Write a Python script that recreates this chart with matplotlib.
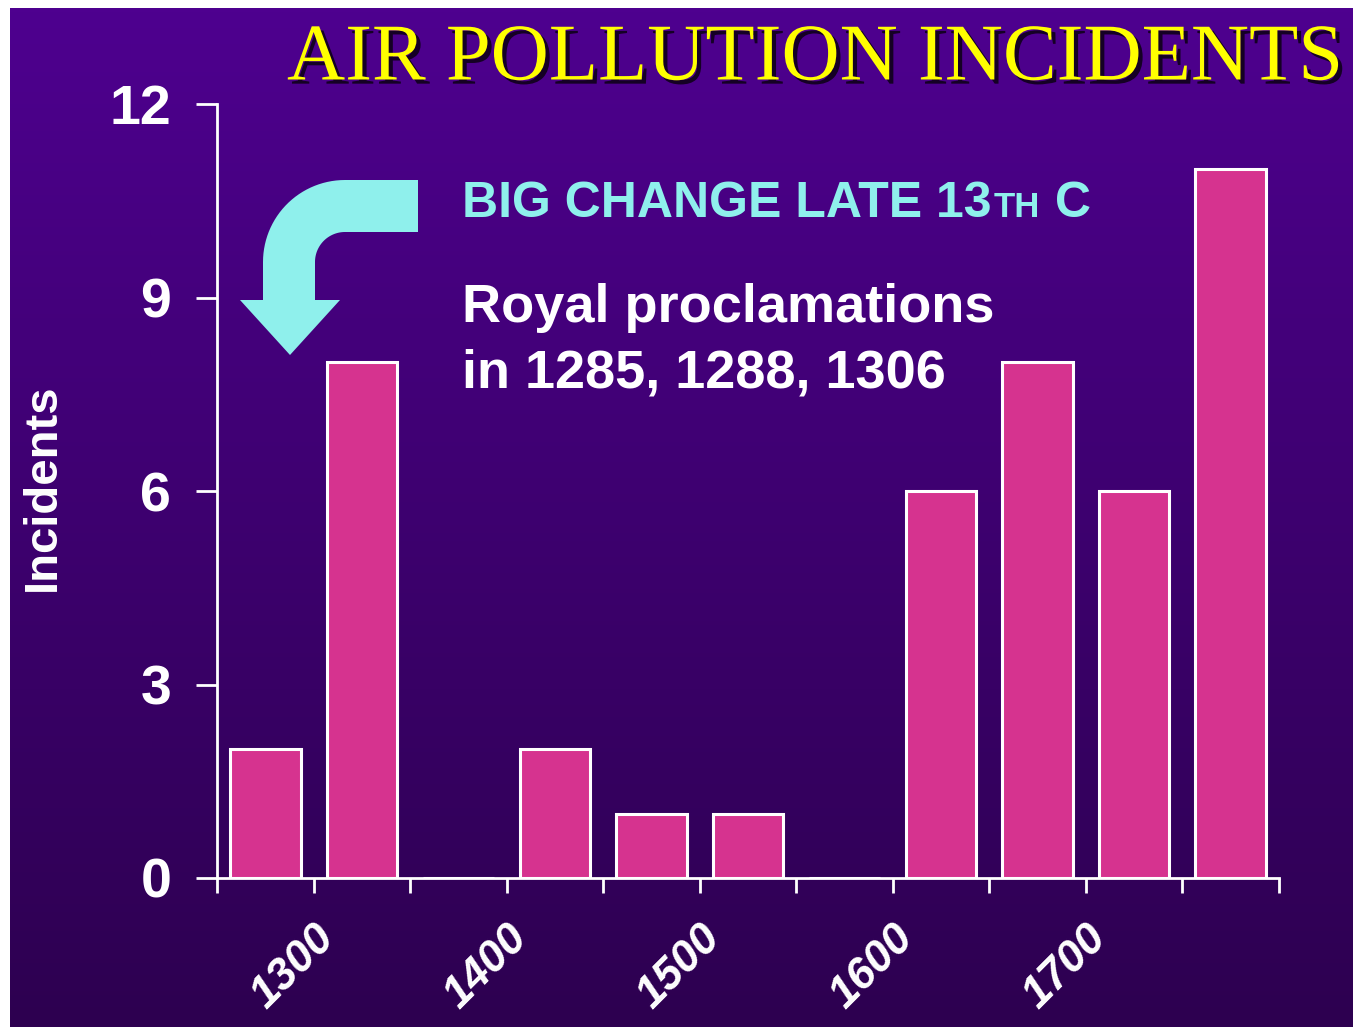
import numpy as np
import matplotlib
matplotlib.use("Agg")
import matplotlib.pyplot as plt
import matplotlib.patheffects as pe
from matplotlib.patches import Polygon

# 50-year bins, 1250-1800
bin_starts = [1250, 1300, 1350, 1400, 1450, 1500, 1550, 1600, 1650, 1700, 1750]
incidents = [2, 8, 0, 2, 1, 1, 0, 6, 8, 6, 11]
tick_years = list(range(1250, 1801, 50))
labelled_years = [1300, 1400, 1500, 1600, 1700]
y_ticks = [0, 3, 6, 9, 12]

W, H = 1353, 1027
plt.rcParams['font.family'] = ['Liberation Sans', 'DejaVu Sans']
fig = plt.figure(figsize=(W / 100, H / 100), dpi=100, facecolor='white')

# gradient background (slide), white strip at left and top
bg = fig.add_axes([10 / W, 0, 1 - 10 / W, 1 - 8 / H])
top = np.array([78, 0, 143]) / 255
bot = np.array([45, 0, 80]) / 255
t = np.linspace(0, 1, 256)[:, None]
grad = (top[None, :] * (1 - t) + bot[None, :] * t)[:, None, :]
bg.imshow(grad, aspect='auto', extent=[0, 1, 0, 1])
bg.set_axis_off()

ax = fig.add_axes([217 / W, (H - 878) / H, 1062 / W, 774 / H])
ax.patch.set_alpha(0)
centers = [b + 25 for b in bin_starts]
ax.bar(centers, incidents, width=36.5, color='#D6338F', edgecolor='white', linewidth=2.2)

ax.set_xlim(1250, 1800)
ax.set_ylim(0, 12)
for s in ['top', 'right']:
    ax.spines[s].set_visible(False)
for s in ['left', 'bottom']:
    ax.spines[s].set_color('white')
    ax.spines[s].set_linewidth(2)

ax.set_yticks(y_ticks)
ax.set_yticklabels([str(v) for v in y_ticks], fontsize=40, fontweight='bold', color='white')
ax.tick_params(axis='y', length=15, width=2, color='white', pad=18)

ax.set_xticks(tick_years)
ax.set_xticklabels([str(y) if y in labelled_years else '' for y in tick_years],
                   fontsize=32, fontweight='bold', style='italic', color='white',
                   rotation=45, ha='right', rotation_mode='anchor')
ax.tick_params(axis='x', length=11, width=2, color='white', pad=17)

ax.set_ylabel('Incidents', fontsize=34, fontweight='bold', color='white')
ax.yaxis.set_label_coords(-0.143, 0.505)

# title with shadow
fig.text(287 / W, 1 - 60 / H, 'AIR POLLUTION INCIDENTS', family='Liberation Serif',
         fontsize=58, color='#FFFF00', ha='left', va='center',
         path_effects=[pe.withSimplePatchShadow(offset=(3, -3), shadow_rgbFace='#150025', alpha=1)])

# cyan note with small-caps "TH"
cyan = '#8FF0EC'
fig.canvas.draw()
r = fig.canvas.get_renderer()
t1 = fig.text(462 / W, 1 - 217 / H, 'BIG CHANGE LATE 13', fontsize=36, fontweight='bold',
              color=cyan, ha='left', va='baseline')
e1 = t1.get_window_extent(r)
t2 = fig.text(e1.x1 / W + 2 / W, 1 - 217 / H, 'TH', fontsize=25, fontweight='bold',
              color=cyan, ha='left', va='baseline')
e2 = t2.get_window_extent(r)
fig.text(e2.x1 / W + 15 / W, 1 - 217 / H, 'C', fontsize=36, fontweight='bold',
         color=cyan, ha='left', va='baseline')

fig.text(462 / W, 1 - 322 / H, 'Royal proclamations', fontsize=39, fontweight='bold',
         color='white', ha='left', va='baseline')
fig.text(462 / W, 1 - 387 / H, 'in 1285, 1288, 1306', fontsize=39, fontweight='bold',
         color='white', ha='left', va='baseline')

# curved arrow (pixel outline -> figure fraction)
cx, cy = 345, 262
a = np.linspace(np.pi / 2, np.pi, 30)
outer = np.c_[cx + 82 * np.cos(a), cy - 82 * np.sin(a)]
inner = np.c_[cx + 30 * np.cos(a[::-1]), cy - 30 * np.sin(a[::-1])]
pts = np.vstack([
    [[418, 180]],
    outer,
    [[263, 300], [240, 300], [290, 355], [340, 300], [315, 300]],
    inner,
    [[418, 232]],
])
pts = np.c_[pts[:, 0] / W, 1 - pts[:, 1] / H]
fig.patches.append(Polygon(pts, closed=True, facecolor=cyan, edgecolor='none',
                           transform=fig.transFigure, figure=fig))

fig.savefig('out.png', dpi=100, facecolor='white')
